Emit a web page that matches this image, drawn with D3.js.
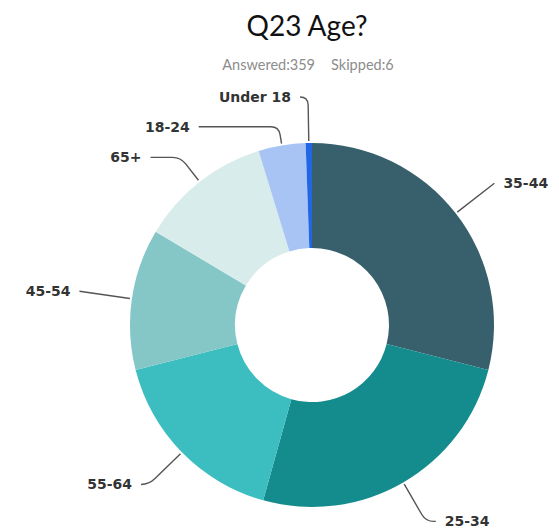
<!DOCTYPE html>
<html>
<head>
<meta charset="utf-8">
<script src="https://cdn.jsdelivr.net/npm/d3@7"></script>
<style>
  body { margin: 0; background: #fff; }
</style>
</head>
<body>
<div id="chart"></div>
<script>
// Survey answers for Q23, in drawing order (clockwise from 12 o'clock)
const categories = ["35-44", "25-34", "55-64", "45-54", "65+", "18-24", "Under 18"];
const counts = [104, 91, 60, 45, 42, 15, 2];
const colors = ["#375f6c", "#148b8c", "#3cbec0", "#85c6c7", "#d8edeb", "#a7c4f5", "#2167e4"];
const answered = 359;
const skipped = 6;

const width = 559;
const height = 528;
const cx = 312, cy = 325;
const outerR = 182, innerR = 77;

// leader line layout: elbow radius and horizontal run per label
const leader = {
  "35-44": { r: 231, run: 0 },
  "25-34": { r: 227, run: 10 },
  "55-64": { r: 228, run: 8 },
  "45-54": { r: 235, run: 0 },
  "65+": { r: 213, run: 30 },
  "18-24": { r: 201, run: 80 },
  "Under 18": { r: 228, run: 8 }
};

const data = categories.map((c, i) => ({ name: c, value: counts[i], color: colors[i] }));

const svg = d3.select("#chart")
  .append("svg")
  .attr("width", width)
  .attr("height", height);

// Title + subtitle
svg.append("text")
  .attr("x", 307)
  .attr("y", 36)
  .attr("text-anchor", "middle")
  .style("font-family", "Lato, 'Open Sans', sans-serif")
  .style("font-size", "28px")
  .style("fill", "#111")
  .text("Q23 Age?");

const sub = svg.append("text")
  .attr("x", 308)
  .attr("y", 70)
  .attr("text-anchor", "middle")
  .style("font-family", "Lato, 'Open Sans', sans-serif")
  .style("font-size", "14.5px")
  .style("fill", "#8c8c8c");
sub.append("tspan").text(`Answered:${answered}`);
sub.append("tspan").attr("dx", 16).text(`Skipped:${skipped}`);

const pie = d3.pie()
  .value(d => d.value)
  .sort(null);

const arcs = pie(data);

const arc = d3.arc()
  .innerRadius(innerR)
  .outerRadius(outerR);

const g = svg.append("g")
  .attr("transform", `translate(${cx},${cy})`);

g.selectAll("path.slice")
  .data(arcs)
  .join("path")
  .attr("class", "slice")
  .attr("d", arc)
  .attr("fill", d => d.data.color);

// point on a circle of radius r at pie angle a (0 = top, clockwise)
const polar = (r, a) => [r * Math.sin(a), -r * Math.cos(a)];

function leaderPath(d) {
  const a = (d.startAngle + d.endAngle) / 2;
  const L = leader[d.data.name];
  const side = Math.sin(a) >= 0 ? 1 : -1;
  const p0 = polar(outerR + 2, a);
  const p1 = polar(L.r, a);
  const p2 = [p1[0] + side * L.run, p1[1]];
  const path = d3.path();
  path.moveTo(p0[0], p0[1]);
  if (L.run > 0) {
    // rounded elbow
    const k = 8;
    const dx = p1[0] - p0[0], dy = p1[1] - p0[1];
    const len = Math.hypot(dx, dy);
    const b = [p1[0] - dx / len * k, p1[1] - dy / len * k];
    const run = Math.min(k, L.run);
    path.lineTo(b[0], b[1]);
    path.quadraticCurveTo(p1[0], p1[1], p1[0] + side * run, p1[1]);
  }
  path.lineTo(p2[0], p2[1]);
  return { d: path.toString(), end: p2, side };
}

const labels = arcs.map(d => Object.assign({ arc: d }, leaderPath(d)));

g.selectAll("path.leader")
  .data(labels)
  .join("path")
  .attr("class", "leader")
  .attr("d", d => d.d)
  .attr("fill", "none")
  .attr("stroke", "#555")
  .attr("stroke-width", 1.4);

g.selectAll("text.label")
  .data(labels)
  .join("text")
  .attr("class", "label")
  .attr("x", d => d.end[0] + d.side * 9)
  .attr("y", d => d.end[1])
  .attr("dy", "0.35em")
  .attr("text-anchor", d => d.side > 0 ? "start" : "end")
  .style("font-family", "'DejaVu Sans', sans-serif")
  .style("font-weight", "bold")
  .style("font-size", "14px")
  .style("fill", "#333")
  .text(d => d.arc.data.name);
</script>
</body>
</html>
